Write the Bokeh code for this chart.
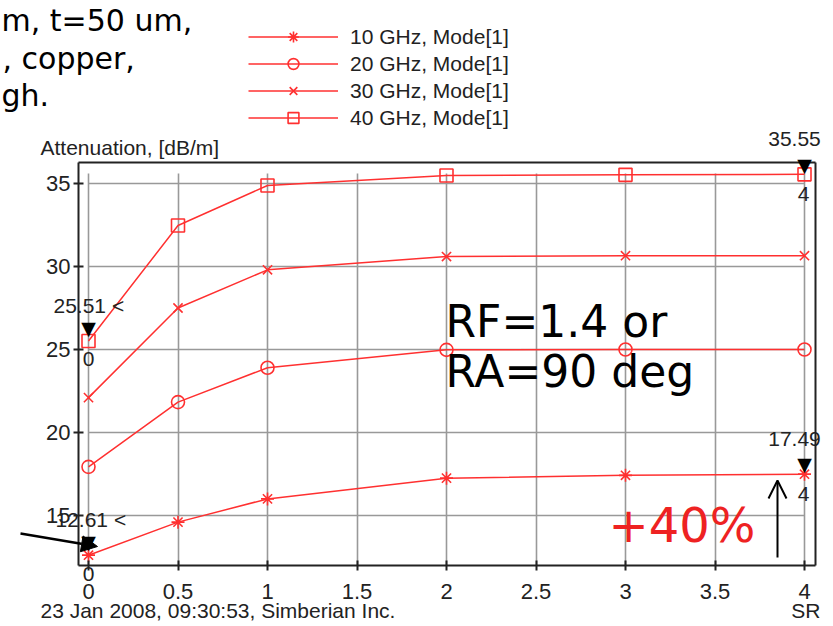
from bokeh.plotting import figure
from bokeh.models import (Range1d, Label, Arrow, NormalHead, OpenHead, Legend,
                          LegendItem, FixedTicker, LinearAxis)
from bokeh.embed import file_html
from bokeh.resources import INLINE

# ---- data ----
sr = [0, 0.5, 1, 2, 3, 4]
att_10 = [12.61, 14.6, 16.0, 17.25, 17.42, 17.49]
att_20 = [17.93, 21.83, 23.9, 24.98, 25.0, 25.0]
att_30 = [22.1, 27.5, 29.8, 30.6, 30.65, 30.65]
att_40 = [25.51, 32.47, 34.88, 35.48, 35.52, 35.55]
series = [att_10, att_20, att_30, att_40]
series_labels = ["10 GHz, Mode[1]", "20 GHz, Mode[1]", "30 GHz, Mode[1]", "40 GHz, Mode[1]"]
markers = ["asterisk", "circle", "x", "square"]
x_ticks = [0, 0.5, 1, 1.5, 2, 2.5, 3, 3.5, 4]
x_tick_labels = ["0", "0.5", "1", "1.5", "2", "2.5", "3", "3.5", "4"]
y_ticks = [15, 20, 25, 30, 35]

W, H = 833, 626
RED = "#ff3030"
INK = "#222222"
CF = "Liberation Sans"
TF = "DejaVu Sans"

def dx(X):  # canvas px -> data x
    return (X - 88) / 179.0

def dy(Y):  # canvas px -> data y
    return 35 - (Y - 183) / 16.6

p = figure(width=W, height=H, output_backend="svg", toolbar_location=None,
           x_range=Range1d(dx(0), dx(W)), y_range=Range1d(dy(H), dy(0)),
           min_border_left=0, min_border_right=0, min_border_top=0,
           min_border_bottom=0, title=None)
p.background_fill_color = "white"
p.border_fill_color = "white"
p.outline_line_color = None

# main axes placed at the chart box edges
p.xaxis.fixed_location = dy(565)
p.yaxis.fixed_location = dx(78)
p.xaxis.bounds = (dx(78), dx(815))
p.yaxis.bounds = (dy(565), dy(162))
for ax in (p.xaxis, p.yaxis):
    ax.axis_line_color = INK
    ax.axis_line_width = 2
    ax.major_tick_line_color = INK
    ax.major_tick_line_width = 2
    ax.major_tick_in = 5
    ax.major_tick_out = 5
    ax.minor_tick_line_color = None
    ax.major_label_text_font = CF
    ax.major_label_text_font_size = "22px"
    ax.major_label_text_color = INK

p.xaxis.ticker = FixedTicker(ticks=x_ticks)
p.xaxis.major_label_overrides = {t: l for t, l in zip(x_ticks, x_tick_labels)}
p.xaxis.major_label_standoff = 13
p.yaxis.ticker = FixedTicker(ticks=y_ticks)
p.yaxis.major_label_standoff = 3

# top and right edges of the chart box
top_ax = LinearAxis(fixed_location=dy(162), bounds=(dx(78), dx(815)),
                    ticker=FixedTicker(ticks=[]),
                    axis_line_color=INK, axis_line_width=2,
                    major_tick_line_color=None, minor_tick_line_color=None)
right_ax = LinearAxis(fixed_location=dx(815), bounds=(dy(565), dy(162)),
                      ticker=FixedTicker(ticks=[]),
                      axis_line_color=INK, axis_line_width=2,
                      major_tick_line_color=None, minor_tick_line_color=None)
p.add_layout(top_ax, "above")
p.add_layout(right_ax, "right")

p.xgrid.ticker = FixedTicker(ticks=x_ticks)
p.ygrid.ticker = FixedTicker(ticks=y_ticks)
for g in (p.xgrid, p.ygrid):
    g.grid_line_color = "#999999"
    g.grid_line_width = 1.6
p.ygrid.cross_bounds = (0, 4)
p.xgrid.cross_bounds = (dy(565), dy(173))

items = []
for ys, lab, mk in zip(series, series_labels, markers):
    r1 = p.line(sr, ys, line_color=RED, line_width=1.5)
    r2 = p.scatter(sr, ys, marker=mk, size=13, line_color=RED,
                   fill_color=None, line_width=1.6)
    items.append(LegendItem(label=lab, renderers=[r1, r2]))

legend = Legend(items=items, location=(248, H - 131), glyph_width=90, glyph_height=27,
                label_height=20, label_standoff=12, spacing=0, padding=0, margin=0,
                border_line_color=None, background_fill_alpha=0,
                label_text_font=CF, label_text_font_size="21px",
                label_text_color=INK)
p.add_layout(legend, "center")


def lab(text, X, Y, size, color=INK, align="left", font=CF, baseline="alphabetic"):
    if baseline == "alphabetic":
        Y = Y - 0.39 * size
    p.add_layout(Label(x=dx(X), y=dy(Y), text=text, text_align=align,
                       text_baseline=baseline, text_font=font,
                       text_font_size=f"{size}px", text_color=color))

# axis titles / footer
lab("Attenuation, [dB/m]", 40, 155, 21)
lab("23 Jan 2008, 09:30:53, Simberian Inc.", 40, 618, 21)
lab("SR", 820, 618, 21, align="right")

# slide text at top-left
lab("m, t=50 um,", 1, 32, 30, color="black", font=TF)
lab(", copper,", 2, 70, 30, color="black", font=TF)
lab("gh.", 1, 107, 30, color="black", font=TF)

# marker annotations
lab("35.55", 794, 147, 21, align="center")
lab("\u25BC", 804, 164, 19, color="black", align="center", font=TF, baseline="middle")
lab("4", 803, 202, 21, align="center")

lab("25.51 <", 53, 313, 21)
lab("\u25BC", 88, 327, 19, color="black", align="center", font=TF, baseline="middle")
lab("0", 88, 367, 21, align="center")

lab("12.61 <", 55, 527, 21)
lab("\u25BC", 88, 541, 19, color="black", align="center", font=TF, baseline="middle")
lab("0", 88, 582, 21, align="center")

lab("17.49", 794, 447, 21, align="center")
lab("\u25BC", 804, 463, 19, color="black", align="center", font=TF, baseline="middle")
lab("4", 803, 502, 21, align="center")

# slide overlays
lab("RF=1.4 or", 445, 338, 44, color="black", font=TF)
lab("RA=90 deg", 445, 388, 44, color="black", font=TF)
lab("+40%", 608, 543, 48, color="#ee2222", font=TF)

p.add_layout(Arrow(x_start=dx(20), y_start=dy(533), x_end=dx(97), y_end=dy(546),
                   line_width=2.5, line_color="black",
                   end=NormalHead(size=16, fill_color="black", line_color="black")))
p.add_layout(Arrow(x_start=dx(777), y_start=dy(557), x_end=dx(777), y_end=dy(480),
                   line_width=2, line_color="black",
                   end=OpenHead(size=18, line_width=2, line_color="black")))

open("out.html", "w").write(file_html(p, INLINE))
